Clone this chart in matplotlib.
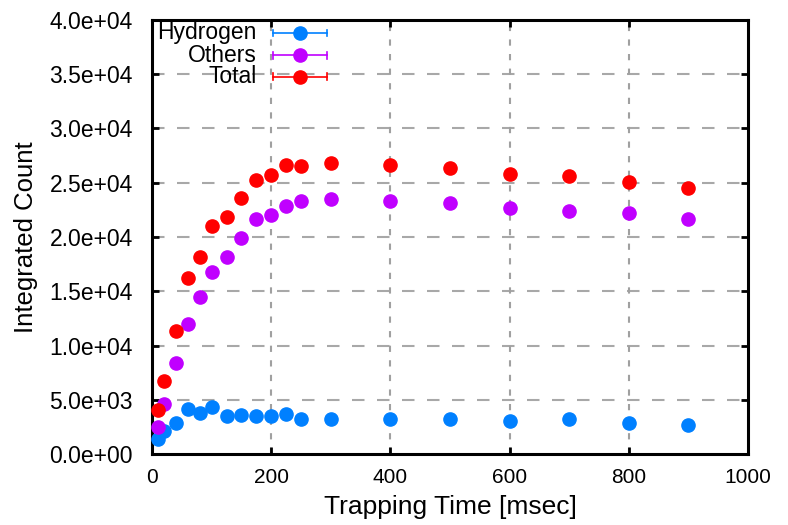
import matplotlib
matplotlib.use("Agg")
import matplotlib.pyplot as plt
from matplotlib.ticker import FormatStrFormatter, MultipleLocator

plt.rcParams['font.family'] = ['Liberation Sans', 'DejaVu Sans']

time_ms = [10, 20, 40, 60, 80, 100, 125, 150, 175, 200, 225, 250, 300, 400, 500, 600, 700, 800, 900]
hydrogen = [1350, 2170, 2900, 4200, 3800, 4300, 3550, 3640, 3550, 3550, 3730, 3270,
            3270, 3270, 3240, 3030, 3240, 2850, 2720]
others = [2500, 4650, 8350, 12000, 14500, 16800, 18200, 19900, 21700, 22000, 22900, 23300,
          23500, 23300, 23100, 22700, 22400, 22200, 21700]
total = [4100, 6700, 11300, 16200, 18200, 21000, 21800, 23600, 25300, 25700, 26600, 26500,
         26850, 26640, 26400, 25800, 25600, 25100, 24500]

series_names = ["Hydrogen", "Others", "Total"]
series_values = [hydrogen, others, total]
colors = ["#0080ff", "#c000ff", "#ff0000"]

fig = plt.figure(figsize=(7.88, 5.25), dpi=100)
ax = fig.add_axes([0.193, 0.135, 0.756, 0.827])

ax.set_xlim(0, 1000)
ax.set_ylim(0, 40000)
ax.xaxis.set_major_locator(MultipleLocator(200))
ax.yaxis.set_major_locator(MultipleLocator(5000))
ax.yaxis.set_major_formatter(FormatStrFormatter('%.1e'))

# grid
for yv in range(5000, 40000, 5000):
    ax.axhline(yv, color='#a8a8a8', lw=1.5, dashes=(6, 6), zorder=1)
for xv in range(200, 1000, 200):
    ax.axvline(xv, color='#a0a0a0', lw=1.5, dashes=(3, 4), zorder=1)

for name, vals, c in zip(series_names, series_values, colors):
    ax.plot(time_ms, vals, 'o', color=c, markersize=9.5, zorder=3, clip_on=False)

# legend (gnuplot style: right-aligned text, then errorbar sample)
leg_y = [0.970, 0.919, 0.869]
for name, c, yy in zip(series_names, colors, leg_y):
    ax.text(0.176, yy, name, transform=ax.transAxes, ha='right', va='center',
            fontsize=16.5, zorder=5)
    ax.plot([0.203, 0.294], [yy, yy], color=c, lw=1.2, transform=ax.transAxes, zorder=5)
    for xe in (0.203, 0.294):
        ax.plot([xe, xe], [yy - 0.008, yy + 0.008], color=c, lw=1.2,
                transform=ax.transAxes, zorder=5)
    ax.plot([0.248], [yy], 'o', color=c, markersize=9.5, transform=ax.transAxes, zorder=6)

for sp in ax.spines.values():
    sp.set_linewidth(2.2)
ax.tick_params(direction='in', length=5, width=2, top=True, right=True)
ax.tick_params(axis='y', labelsize=16.5, pad=14)
ax.tick_params(axis='x', labelsize=15, pad=10)

ax.set_xlabel("Trapping Time [msec]", fontsize=19, labelpad=6)
ax.set_ylabel("Integrated Count", fontsize=18.5, labelpad=8)

fig.savefig("out.png", dpi=100)
